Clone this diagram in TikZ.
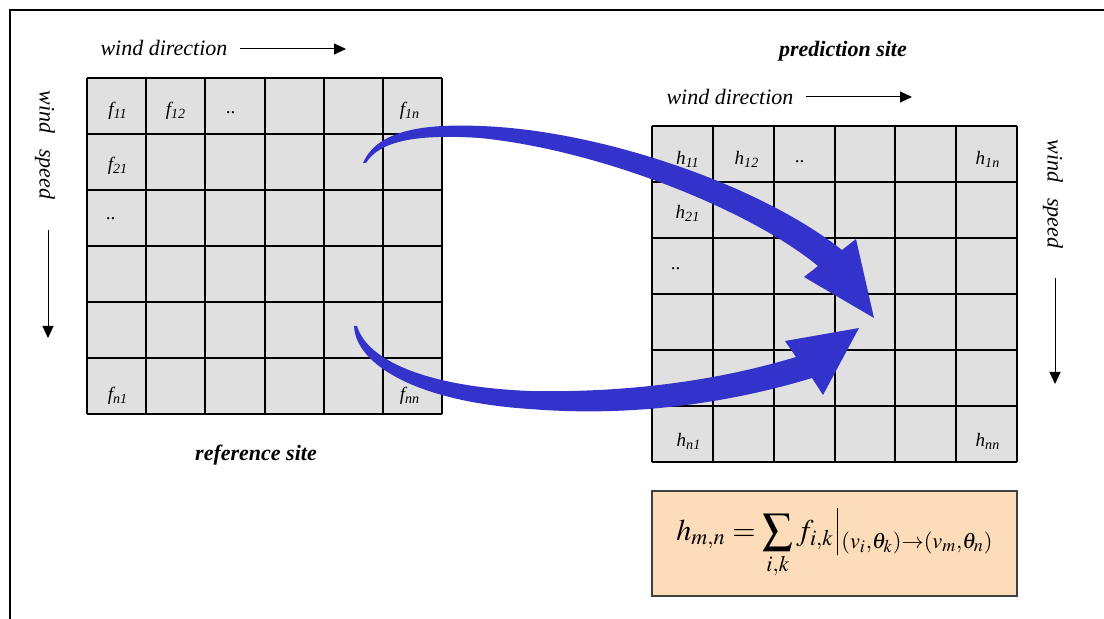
\documentclass[tikz,border=0pt]{standalone}
\usepackage{mathptmx}
\usepackage{fontspec}
\setmainfont{Liberation Serif}
\usetikzlibrary{arrows.meta}
\definecolor{cellgray}{RGB}{224,224,224}
\definecolor{flowblue}{RGB}{51,51,204}
\definecolor{boxpeach}{RGB}{253,220,186}
\tikzset{
    gridline/.style={draw=black, line width=1pt},
    celllabel/.style={font=\fontsize{9.5}{11}\selectfont\itshape, inner sep=0pt},
    axislabel/.style={font=\fontsize{11}{13}\selectfont\itshape, inner sep=0pt},
    sitelabel/.style={font=\fontsize{11}{13}\selectfont\bfseries\itshape, inner sep=0pt},
    axisarrow/.style={line width=0.5pt, -{Triangle[length=6pt,width=5.5pt]}},
    flow/.style={fill=flowblue, draw=none},
    formulabox/.style={draw=black!75, line width=0.6pt, fill=boxpeach, inner sep=0pt}
}

\begin{document}
\begin{tikzpicture}[x=0.5pt, y=-0.5pt]
    \useasboundingbox (0,0) rectangle (1104,619);
    \draw[line width=0.75pt] (1104,10) -- (10,10) -- (10,619);

    % reference grid
    \fill[cellgray] (87,78) rectangle (442,414);
    \foreach \i in {0,...,6}
        \draw[gridline] ({87+\i*355/6},78) -- ({87+\i*355/6},414);
    \foreach \j in {0,...,6}
        \draw[gridline] (87,{78+\j*56}) -- (442,{78+\j*56});
    \node[celllabel] (f11) at (118,111) {f\textsubscript{11}};
    \node[celllabel] (f12) at (176,111) {f\textsubscript{12}};
    \node[celllabel] (fdots) at (231,113) {..};
    \node[celllabel] (f1n) at (410,111) {f\textsubscript{1n}};
    \node[celllabel] (f21) at (118,166) {f\textsubscript{21}};
    \node[celllabel] (fvdots) at (111,219) {..};
    \node[celllabel] (fn1) at (118,396) {f\textsubscript{n1}};
    \node[celllabel] (fnn) at (410,396) {f\textsubscript{nn}};

    \node[axislabel] (dirL) at (164,48) {wind direction};
    \coordinate (dirLa) at (240,49);
    \coordinate (dirLb) at (346,49);
    \draw[axisarrow] (dirLa) -- (dirLb);
    \node[axislabel, rotate=-90] (speedL) at (45,145) {wind\hspace{0.7em}speed};
    \coordinate (speedLa) at (48,230);
    \coordinate (speedLb) at (48,338);
    \draw[axisarrow] (speedLa) -- (speedLb);
    \node[sitelabel] (refsite) at (256,455) {reference site};

    % prediction grid
    \fill[cellgray] (652,126) rectangle (1017,462);
    \foreach \i in {0,...,6}
        \draw[gridline] ({652+\i*365/6},126) -- ({652+\i*365/6},462);
    \foreach \j in {0,...,6}
        \draw[gridline] (652,{126+\j*56}) -- (1017,{126+\j*56});
    \node[celllabel] (h11) at (688,159) {h\textsubscript{11}};
    \node[celllabel] (h12) at (747,159) {h\textsubscript{12}};
    \node[celllabel] (hdots) at (800,162) {..};
    \node[celllabel] (h1n) at (988,159) {h\textsubscript{1n}};
    \node[celllabel] (h21) at (688,213) {h\textsubscript{21}};
    \node[celllabel] (hvdots) at (676,269) {..};
    \node[celllabel] (hn1) at (689,441) {h\textsubscript{n1}};
    \node[celllabel] (hnn) at (988,441) {h\textsubscript{nn}};

    \node[sitelabel] (predsite) at (843,51) {prediction site};
    \node[axislabel] (dirR) at (730,97) {wind direction};
    \coordinate (dirRa) at (806,97);
    \coordinate (dirRb) at (912,97);
    \draw[axisarrow] (dirRa) -- (dirRb);
    \node[axislabel, rotate=-90] (speedR) at (1053,194) {wind\hspace{0.7em}speed};
    \coordinate (speedRa) at (1055,278);
    \coordinate (speedRb) at (1055,384);
    \draw[axisarrow] (speedRa) -- (speedRb);

    % blue transfer arrows
    \fill[flow] (363,163) .. controls (378,128) and (430,124) .. (480,126)
        .. controls (600,130) and (760,185) .. (842,250)
        -- (856,239) -- (874,318) -- (804,277) -- (818,266)
        .. controls (750,210) and (600,150) .. (480,138)
        .. controls (420,134) and (380,140) .. (366,163) -- cycle;
    \fill[flow] (354,326) .. controls (356,366) and (420,402) .. (530,409)
        .. controls (640,418) and (740,400) .. (812,378)
        -- (823,395) -- (859,328) -- (785,341) -- (796,357)
        .. controls (720,380) and (630,393) .. (530,391)
        .. controls (430,387) and (368,362) .. (357,326) -- cycle;

    \node[formulabox, minimum width=182.5pt, minimum height=52.5pt] (formula) at (834.5,543.5)
        {\fontsize{15}{18}\selectfont
         $h_{m,n}=\displaystyle\sum_{i,k} f_{i,k}\,\vrule height 16pt depth 7.5pt width 0.6pt\,
          \raisebox{-4pt}{$\scriptstyle(v_i,\theta_k)\to(v_m,\theta_n)$}$};
\end{tikzpicture}
\end{document}
